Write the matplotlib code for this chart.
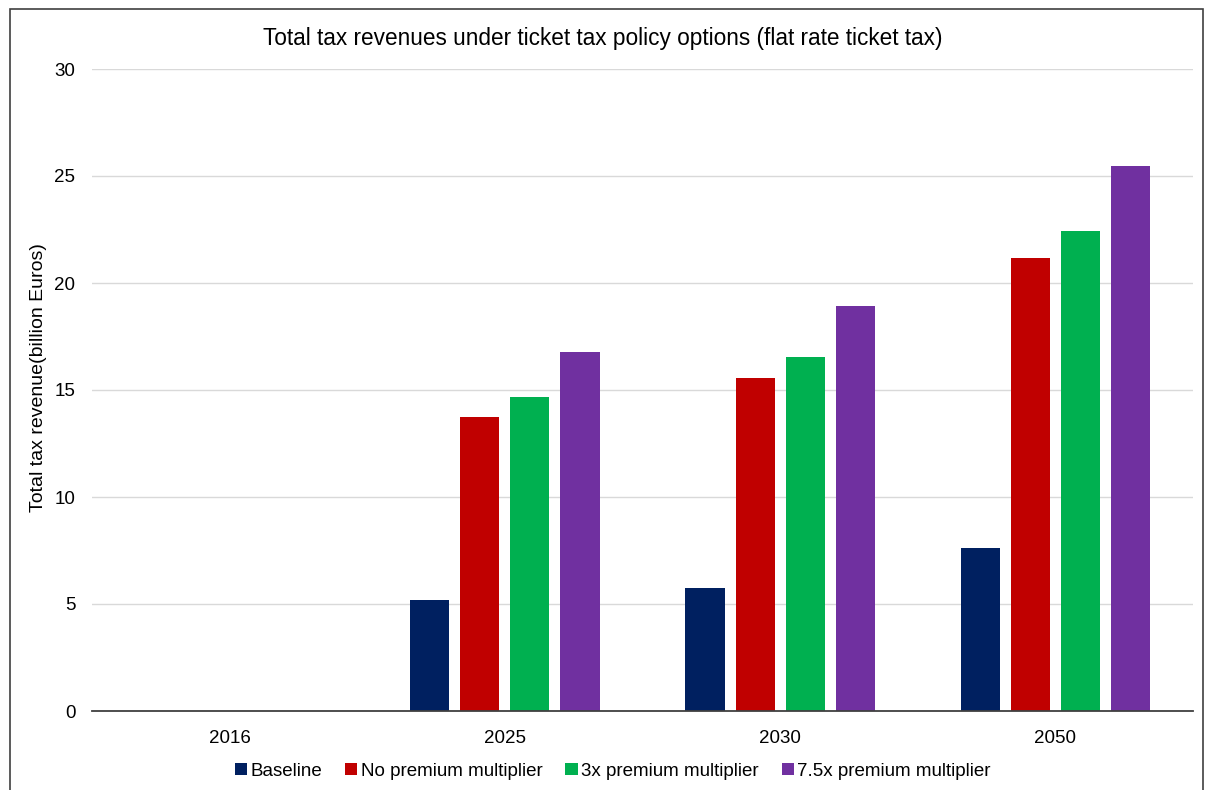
import matplotlib
matplotlib.use("Agg")
import matplotlib.pyplot as plt
import numpy as np
from matplotlib.patches import Rectangle

plt.rcParams['font.family'] = ['Liberation Sans', 'DejaVu Sans']

years = ["2016", "2025", "2030", "2050"]
series_names = ["Baseline", "No premium multiplier", "3x premium multiplier", "7.5x premium multiplier"]
baseline = [0.0, 5.18, 5.76, 7.62]
no_premium = [0.0, 13.75, 15.57, 21.17]
premium_3x = [0.0, 14.65, 16.55, 22.44]
premium_7_5x = [0.0, 16.78, 18.94, 25.47]
colors = ["#002060", "#c00000", "#00b050", "#7030a0"]

fig = plt.figure(figsize=(12.06, 7.9), dpi=100)
ax = fig.add_axes([92 / 1206, 1 - 711 / 790, (1193 - 92) / 1206, (711 - 69) / 790])

x = np.arange(len(years))
width = 0.142
step = 0.182
for i, (vals, name, c) in enumerate(zip([baseline, no_premium, premium_3x, premium_7_5x], series_names, colors)):
    ax.bar(x + (i - 1.5) * step, vals, width, color=c, label=name, zorder=3)

ax.set_xlim(-0.5, len(years) - 0.5)
ax.set_ylim(0, 30)
ax.set_yticks(range(0, 31, 5))
ax.set_xticks(x)
ax.set_xticklabels(years)
ax.tick_params(axis='both', length=0, labelsize=13.5, colors='black')
ax.tick_params(axis='x', pad=14)
ax.tick_params(axis='y', pad=12)
ax.grid(axis='y', color='#d9d9d9', linewidth=1, zorder=0)
for s in ['top', 'right', 'left']:
    ax.spines[s].set_visible(False)
ax.spines['bottom'].set_color('#404040')
ax.spines['bottom'].set_linewidth(1.3)
ax.spines['bottom'].set_zorder(4)

ax.set_ylabel("Total tax revenue(billion Euros)", fontsize=14, va='center')
ax.yaxis.set_label_coords(-0.049, 0.519)
fig.text(0.5, 1 - 39 / 790, "Total tax revenues under ticket tax policy options (flat rate ticket tax)",
         ha='center', va='center', fontsize=16.3)

leg = fig.legend(loc='center', bbox_to_anchor=(613 / 1206, 1 - 771 / 790), ncol=4, frameon=False,
                 fontsize=13.5, handlelength=0.65, handleheight=0.65, handletextpad=0.2, columnspacing=1.2)

# outer frame of the chart area
fig.patches.append(Rectangle((10 / 1206, -0.01), (1203 - 10) / 1206, 1 - 9 / 790 + 0.01,
                             transform=fig.transFigure, fill=False, edgecolor='#404040', linewidth=1.2))

fig.savefig("out.png", dpi=100)
